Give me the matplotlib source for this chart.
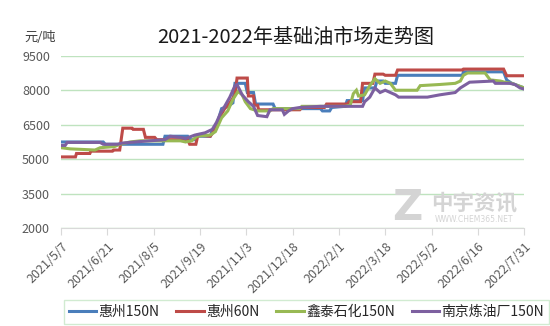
import pandas as pd
import matplotlib.pyplot as plt
import matplotlib.dates as mdates
from matplotlib.ticker import FuncFormatter

plt.rcParams['font.family'] = ['Noto Sans CJK SC', 'DejaVu Sans']

# 惠州150N
hz150_dates = ['2021-05-07', '2021-06-17', '2021-06-19', '2021-08-14', '2021-08-16', '2021-09-07',
               '2021-09-09', '2021-09-14', '2021-09-16', '2021-09-29', '2021-10-01', '2021-10-04',
               '2021-10-10', '2021-10-16', '2021-10-21', '2021-10-23', '2021-11-02', '2021-11-04',
               '2021-11-10', '2021-11-12', '2021-11-29', '2021-12-01', '2022-01-14', '2022-01-16',
               '2022-01-23', '2022-01-25', '2022-02-07', '2022-02-09', '2022-02-24', '2022-02-26',
               '2022-03-08', '2022-03-10', '2022-03-16', '2022-03-18', '2022-03-28', '2022-03-30',
               '2022-06-01', '2022-06-02', '2022-07-11', '2022-07-14', '2022-07-19', '2022-07-25',
               '2022-07-31']
hz150_vals = [5750, 5750, 5650, 5650, 6000, 6000,
              5850, 5850, 6000, 6000, 6250, 6300,
              7200, 7300, 7450, 8300, 8300, 7900,
              7900, 7400, 7400, 7200, 7200, 7100,
              7100, 7250, 7300, 7550, 7550, 8100,
              8100, 8400, 8400, 8300, 8300, 8650,
              8650, 8800, 8800, 8450, 8300, 8200,
              8100]

# 惠州60N
hz60_dates = ['2021-05-07', '2021-05-21', '2021-05-22', '2021-06-04', '2021-06-05', '2021-06-26',
              '2021-06-27', '2021-07-03', '2021-07-06', '2021-07-15', '2021-07-16', '2021-07-26',
              '2021-07-28', '2021-08-06', '2021-08-08', '2021-09-07', '2021-09-09', '2021-09-15',
              '2021-09-17', '2021-09-29', '2021-10-04', '2021-10-09', '2021-10-13', '2021-10-18',
              '2021-10-23', '2021-10-25', '2021-11-04', '2021-11-05', '2021-11-10', '2021-11-11',
              '2021-11-14', '2021-11-15', '2021-12-25', '2021-12-27', '2022-01-18', '2022-01-20',
              '2022-02-09', '2022-02-11', '2022-02-22', '2022-02-24', '2022-03-06', '2022-03-08',
              '2022-03-16', '2022-03-18', '2022-03-28', '2022-03-30', '2022-06-01', '2022-06-02',
              '2022-07-11', '2022-07-14', '2022-07-31']
hz60_vals = [5100, 5100, 5250, 5250, 5350, 5350,
             5400, 5400, 6350, 6350, 6300, 6300,
             5950, 5950, 5850, 5850, 5650, 5650,
             6050, 6000, 6300, 6900, 7200, 7450,
             7800, 8530, 8530, 7750, 7750, 7350,
             7350, 7150, 7150, 7250, 7250, 7400,
             7400, 7500, 7500, 8300, 8300, 8700,
             8700, 8650, 8650, 8880, 8880, 8920,
             8920, 8630, 8630]

# 鑫泰石化150N
xt150_dates = ['2021-05-07', '2021-05-16', '2021-06-09', '2021-06-14', '2021-06-28', '2021-07-03',
               '2021-07-13', '2021-07-23', '2021-08-31', '2021-09-05', '2021-09-11', '2021-09-16',
               '2021-09-29', '2021-10-04', '2021-10-10', '2021-10-16', '2021-10-21', '2021-10-26',
               '2021-10-30', '2021-11-02', '2021-11-07', '2021-11-14', '2021-11-26', '2021-11-29',
               '2021-12-25', '2021-12-27', '2022-02-07', '2022-02-12', '2022-02-15', '2022-02-18',
               '2022-02-20', '2022-02-26', '2022-03-03', '2022-03-08', '2022-03-13', '2022-03-18',
               '2022-03-23', '2022-03-28', '2022-04-18', '2022-04-21', '2022-05-10', '2022-05-25',
               '2022-05-30', '2022-06-02', '2022-06-06', '2022-06-23', '2022-06-28', '2022-07-08',
               '2022-07-12', '2022-07-19', '2022-07-25', '2022-07-31']
xt150_vals = [5500, 5450, 5400, 5500, 5550, 5650,
              5750, 5800, 5800, 5750, 5800, 6000,
              6050, 6200, 6800, 7100, 7600, 7950,
              7800, 7500, 7200, 7100, 7100, 7200,
              7200, 7300, 7300, 7350, 7850, 8000,
              7750, 7800, 8200, 8500, 8300, 8400,
              8300, 8000, 8000, 8200, 8250, 8300,
              8400, 8650, 8750, 8750, 8450, 8400,
              8350, 8300, 8200, 8100]

# 南京炼油厂150N
nj150_dates = ['2021-05-07', '2021-05-11', '2021-05-13', '2021-06-14', '2021-06-17', '2021-07-01',
               '2021-07-05', '2021-07-18', '2021-08-01', '2021-08-16', '2021-08-21', '2021-08-31',
               '2021-09-05', '2021-09-14', '2021-09-24', '2021-10-01', '2021-10-05', '2021-10-09',
               '2021-10-13', '2021-10-18', '2021-10-23', '2021-10-25', '2021-10-30', '2021-11-05',
               '2021-11-10', '2021-11-14', '2021-11-23', '2021-11-26', '2021-12-08', '2021-12-10',
               '2021-12-14', '2021-12-18', '2021-12-25', '2022-01-14', '2022-02-24', '2022-02-26',
               '2022-03-03', '2022-03-08', '2022-03-13', '2022-03-18', '2022-03-23', '2022-03-28',
               '2022-03-31', '2022-04-28', '2022-05-10', '2022-05-25', '2022-05-30', '2022-06-08',
               '2022-07-01', '2022-07-03', '2022-07-17', '2022-07-22', '2022-07-27', '2022-07-31']
nj150_vals = [5600, 5600, 5730, 5730, 5650, 5650,
              5700, 5750, 5800, 5850, 6000, 5950,
              5900, 6050, 6150, 6300, 6600, 7000,
              7300, 7700, 8200, 8250, 7800, 7500,
              7300, 6900, 6850, 7150, 7150, 6950,
              7100, 7200, 7250, 7300, 7300, 7500,
              7700, 8100, 7900, 8000, 7900, 7800,
              7700, 7700, 7800, 7900, 8100, 8350,
              8400, 8300, 8300, 8250, 8100, 8050]

series = [
    ('惠州150N', hz150_dates, hz150_vals, '#4a7ebb'),
    ('惠州60N', hz60_dates, hz60_vals, '#be4b48'),
    ('鑫泰石化150N', xt150_dates, xt150_vals, '#98b954'),
    ('南京炼油厂150N', nj150_dates, nj150_vals, '#7d60a0'),
]

start = pd.Timestamp('2021-05-07')
end = pd.Timestamp('2022-07-31')

fig = plt.figure(figsize=(5.5, 3.26), dpi=100)
ax = fig.add_axes([0.111, 0.300, 0.842, 0.529])

for name, d, v, c in series:
    ax.plot(pd.to_datetime(d), v, color=c, lw=2.2, label=name, solid_joinstyle='miter')

ax.set_xlim(start, end)
ax.set_ylim(2000, 9500)
ax.set_yticks([2000, 3500, 5000, 6500, 8000, 9500])
ax.set_xticks(pd.date_range(start, end, freq='45D'))
ax.xaxis.set_major_formatter(FuncFormatter(
    lambda x, pos: (lambda t: f'{t.year}/{t.month}/{t.day}')(mdates.num2date(x))))

ax.grid(axis='y', color='#bfe3bf', lw=1)
ax.set_axisbelow(True)
for s in ['top', 'right', 'left']:
    ax.spines[s].set_visible(False)
ax.spines['bottom'].set_color('#d9d9d9')
ax.tick_params(axis='y', length=0, labelsize=9, labelcolor='#595959', pad=8)
ax.tick_params(axis='x', length=5, color='#d9d9d9', labelsize=9, labelcolor='#595959')
for lbl in ax.get_xticklabels():
    lbl.set_rotation(45)
    lbl.set_ha('right')
    lbl.set_rotation_mode('anchor')

fig.text(0.538, 0.886, '2021-2022年基础油市场走势图', ha='center', va='center',
         fontsize=14.5, color='#1a1a1a')
fig.text(0.074, 0.886, '元/吨', ha='center', va='center', fontsize=9.5, color='#404040')

# watermark
fig.text(0.74, 0.362, 'Z', ha='center', va='center', fontsize=30, fontweight='bold',
         color='#d4d4d4', family='DejaVu Sans')
fig.text(0.862, 0.377, '中宇资讯', ha='center', va='center', fontsize=15.5, fontweight='bold',
         color='#d4d4d4')
fig.text(0.862, 0.328, 'WWW.CHEM365.NET', ha='center', va='center', fontsize=5.5,
         color='#d4d4d4', family='DejaVu Sans')

leg = fig.legend(loc='center', bbox_to_anchor=(0.557, 0.043), ncol=4, frameon=True,
                 fancybox=False, fontsize=10, handlelength=2.0, handletextpad=0.15,
                 columnspacing=1.2, borderpad=0.35)
leg.get_frame().set_edgecolor('#c6e6c6')
leg.get_frame().set_linewidth(1)
for t in leg.get_texts():
    t.set_color('#262626')

fig.savefig('out.png', dpi=100)
